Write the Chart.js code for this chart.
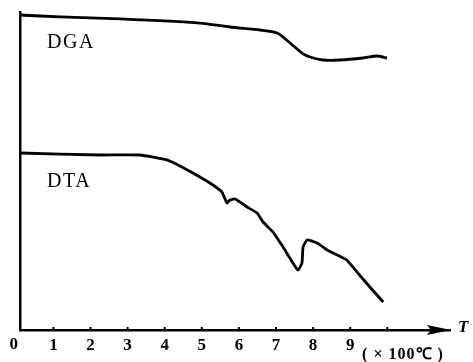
<!DOCTYPE html>
<html>
<head>
<meta charset="utf-8">
<script src="https://cdn.jsdelivr.net/npm/chart.js@4.4.0/dist/chart.umd.min.js"></script>
<style>
html,body{margin:0;padding:0;background:#fff;}
#c{display:block;}
</style>
</head>
<body>
<canvas id="c" width="473" height="362"></canvas>
<script>
// Temperature (×100 ℃)
const dgaT = [0.10, 1.18, 2.80, 4.95, 5.76, 6.57, 7.03, 7.38, 7.70, 7.92, 8.27, 8.72, 9.34, 9.72, 9.99];
const dgaV = [31.70, 31.50, 31.30, 30.89, 30.49, 30.19, 29.89, 28.88, 27.87, 27.47, 27.17, 27.17, 27.37, 27.57, 27.37];
const dtaT = [0.10, 2.26, 3.33, 4.06, 4.41, 4.95, 5.30, 5.54, 5.68, 5.76, 5.90, 6.22, 6.49, 6.65, 6.92, 7.19, 7.59, 7.70, 7.73, 7.84, 8.11, 8.38, 8.91, 9.18, 9.53, 9.89];
const dtaV = [17.81, 17.61, 17.61, 17.11, 16.50, 15.40, 14.59, 13.89, 12.78, 13.08, 13.18, 12.38, 11.77, 10.87, 9.86, 8.35, 6.04, 6.74, 8.35, 9.06, 8.75, 8.05, 7.04, 5.84, 4.33, 2.82];
const tickLabels = ["0","1","2","3","4","5","6","7","8","9"];
const curveNames = ["DGA", "DTA"];
const unitText = "( × 100℃ )";
const axisName = "T";

const toPts = (xs, ys) => xs.map((x, i) => ({x: x, y: ys[i]}));

const decor = {
  id: 'decor',
  afterDraw(chart) {
    const ctx = chart.ctx;
    const xs = chart.scales.x, ys = chart.scales.y;
    const y0 = ys.getPixelForValue(0);
    ctx.save();
    // inward tick marks
    ctx.strokeStyle = '#000';
    ctx.lineWidth = 2;
    for (let v = 1; v <= 10; v++) {
      const px = xs.getPixelForValue(v);
      ctx.beginPath();
      ctx.moveTo(px, y0);
      ctx.lineTo(px, y0 - 3);
      ctx.stroke();
    }
    // label for origin (sits just left of the vertical axis)
    ctx.fillStyle = '#000';
    ctx.font = 'bold 17px "Liberation Serif", serif';
    ctx.textAlign = 'center';
    ctx.textBaseline = 'middle';
    ctx.fillText(tickLabels[0], xs.getPixelForValue(0) - 2.5, y0 + 15);
    // arrow head
    const tip = xs.right;
    ctx.beginPath();
    ctx.moveTo(tip + 1, y0);
    ctx.lineTo(tip - 23, y0 - 5);
    ctx.lineTo(tip - 19, y0);
    ctx.lineTo(tip - 23, y0 + 5);
    ctx.closePath();
    ctx.fill();
    // axis name
    ctx.textAlign = 'left';
    ctx.font = 'italic bold 17px "Liberation Serif", serif';
    ctx.fillText(axisName, tip + 8, y0 - 2);
    // unit
    ctx.font = 'bold 16px "Liberation Serif", serif';
    ctx.letterSpacing = '1px';
    ctx.fillText(unitText, xs.getPixelForValue(9.32), y0 + 25);
    // curve names
    ctx.font = '20px "Liberation Serif", serif';
    ctx.letterSpacing = '1.5px';
    ctx.fillText(curveNames[0], xs.getPixelForValue(0.83), ys.getPixelForValue(28.9));
    ctx.fillText(curveNames[1], xs.getPixelForValue(0.83), ys.getPixelForValue(14.9));
    ctx.restore();
  }
};

new Chart(document.getElementById('c'), {
  type: 'line',
  data: {
    datasets: [
      {label: curveNames[0], data: toPts(dgaT, dgaV), borderColor: '#000', borderWidth: 2.8, pointRadius: 0, tension: 0.25, fill: false},
      {label: curveNames[1], data: toPts(dtaT, dtaV), borderColor: '#000', borderWidth: 2.8, pointRadius: 0, tension: 0.15, fill: false}
    ]
  },
  options: {
    responsive: false,
    animation: false,
    events: [],
    layout: {padding: {left: 20, right: 23, top: 12, bottom: 0}},
    plugins: {legend: {display: false}, tooltip: {enabled: false}},
    scales: {
      x: {
        type: 'linear', min: 0.1, max: 11.69,
        afterFit: s => { s.height = 32; },
        grid: {display: false, drawTicks: false},
        border: {display: true, color: '#000', width: 2.5},
        ticks: {
          stepSize: 1, includeBounds: false, autoSkip: false, maxRotation: 0, padding: 5,
          color: '#000',
          font: {family: '"Liberation Serif", serif', weight: 'bold', size: 17},
          callback: v => (v >= 1 && v <= 9 && Number.isInteger(v)) ? tickLabels[v] : ''
        }
      },
      y: {
        type: 'linear', min: 0, max: 32,
        afterFit: s => { s.width = 0; },
        grid: {display: false, drawTicks: false},
        border: {display: true, color: '#000', width: 2.5},
        ticks: {display: false}
      }
    }
  },
  plugins: [decor]
});
</script>
</body>
</html>
